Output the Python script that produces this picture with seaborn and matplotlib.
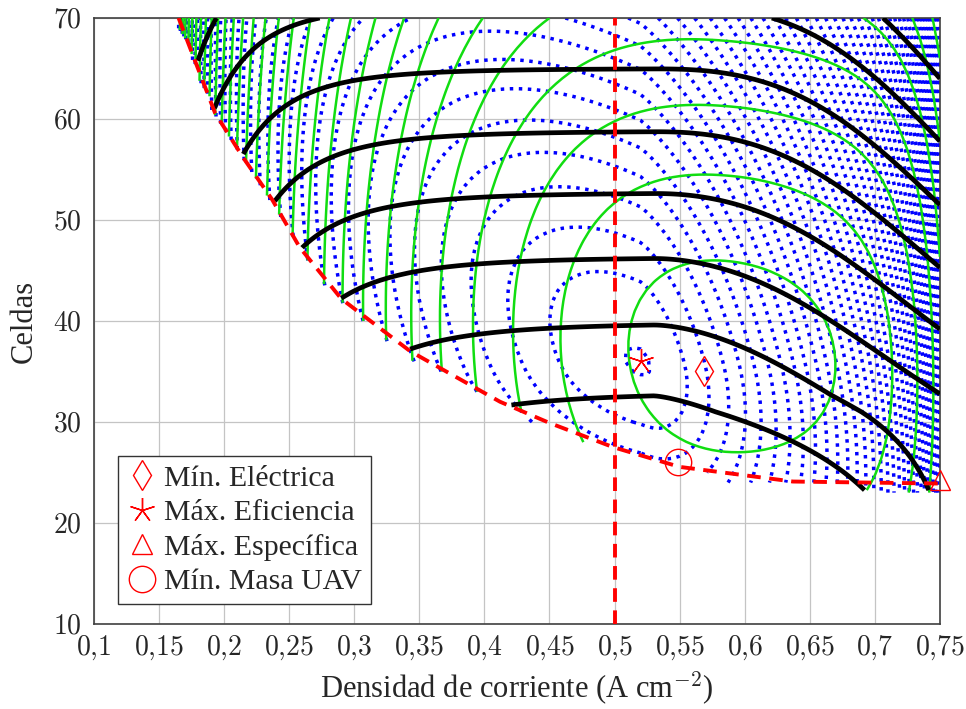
import numpy as np
import matplotlib
matplotlib.use("Agg")
import matplotlib.pyplot as plt
import seaborn as sns
from matplotlib.lines import Line2D

# ---- values ----
x_ticks = [0.10, 0.15, 0.20, 0.25, 0.30, 0.35, 0.40, 0.45, 0.50, 0.55, 0.60, 0.65, 0.70, 0.75]
y_ticks = [10, 20, 30, 40, 50, 60, 70]

# minimum-cells constraint (red dashed curve)
limit_j = [0.165, 0.193, 0.2145, 0.237, 0.258, 0.290, 0.343, 0.412, 0.450, 0.499, 0.550, 0.637, 0.750]
limit_n = [70.0, 60.6, 56.2, 52.0, 47.3, 42.2, 37.0, 32.0, 29.9, 27.5, 25.55, 24.1, 23.9]

# selected design point (vertical red dashed line)
design_j = 0.5

# optima
opt_labels = ["Mín. Eléctrica", "Máx. Eficiencia", "Máx. Específica", "Mín. Masa UAV"]
opt_j = [0.569, 0.520, 0.750, 0.549]
opt_n = [35.0, 36.0, 24.3, 26.0]
opt_markers = ["d", (5, 2, 0), "^", "o"]
opt_sizes = [15, 18, 15, 19]

# blue dotted family (efficiency): centre and ring tops along the vertical
eff_center = [0.521, 35.7]
eff_ring_tops = [1.7, 9.2, 13.6, 17.6, 21.0, 24.2, 27.3, 30.2, 33.0]

# green family (electric): centre and ring tops
elec_center = [0.585, 36.5]
elec_ring_tops = [9.5, 18.0, 24.9, 31.4]

# black family: level of each curve = height of its flat part
power_peaks = [32.9, 39.8, 46.3, 52.7, 58.8, 65.0, 71.3, 77.5]


def warp(j, jc, c_left, a_left, q_act, j_act, a_right, w_right):
    d = j - jc
    den = np.maximum(j - j_act, 0.004)
    left = d * (c_left + a_left * np.abs(d)) - q_act * (1 / den - 1 / (jc - j_act))
    right = d + a_right * w_right * (np.exp((j - 0.75) / w_right) - np.exp((jc - 0.75) / w_right))
    return np.where(d < 0, left, right)


def start_drop(n):
    return np.clip(0.25 * (n - 26) * (1 + 0.01 * (n - 42)), 0, None)


# coarse sweep grid (integer number of cells) for the two ring families
J, N = np.meshgrid(np.arange(0.10, 0.7501, 0.005), np.arange(20, 71, 1.0))
inside = (N >= np.interp(J, limit_j, limit_n) - 1.0) & (J >= limit_j[0] - 0.004) & (N >= 23)

# blue field
jc, nc = eff_center
u = warp(J, jc, 0.45, 0.0, 0.010, 0.12, 2.7, 0.027) + 0.0019 * (N - nc)
dy = np.where(N > nc, N - nc, 1.45 * (N - nc))
B = np.hypot(280 * u, dy) ** 1.5
b_tops = np.array(eff_ring_tops) ** 1.5
b_step = np.diff(b_tops[1:]).mean()
blue_levels = np.concatenate([b_tops, b_tops[-1] + b_step * np.arange(1, 260)])

# green field
jc, nc = elec_center
u = warp(J, jc, 1.0, 2.5, 0.020, 0.13, 6.4, 0.0298) + 0.001 * (N - nc)
G = np.hypot(98.5 * u, N - nc) ** 1.4
g_tops = np.array(elec_ring_tops) ** 1.4
g_step = np.diff(g_tops).mean()
green_levels = np.concatenate([g_tops, g_tops[-1] + g_step * np.arange(1, 120)])

# black field on a finer grid: each curve rises from the constraint, stays flat, then falls
Jf, Nf = np.meshgrid(np.arange(0.10, 0.7501, 0.0025), np.arange(20, 70.01, 0.25))
floor_f = np.interp(Jf, limit_j, limit_n)
floor_f = np.where(Jf > 0.62, np.minimum(floor_f, 23.2), floor_f)
inside_f = (Nf >= floor_f) & (Jf >= limit_j[0])
low = np.clip(31 - Nf, 0, None)
p = np.clip(1.5 + 0.035 * (Nf - 37), 1.35, 3.0) + 0.09 * low
amp = 13.5 + 0.57 * low
right_drop = amp * (np.clip(Jf - 0.53, 0, None) / 0.22) ** p
K = Nf + right_drop
for _ in range(15):
    ys = K.copy()
    for _ in range(30):
        ys = K - start_drop(ys)
    xs = np.interp(ys, limit_n[::-1], limit_j[::-1])
    K = Nf + start_drop(ys) * np.clip(xs / Jf, 0, 1) ** (1 / 0.17) + right_drop
k_step = np.diff(power_peaks).mean()
black_levels = np.concatenate([power_peaks, power_peaks[-1] + k_step * np.arange(1, 4)])

# ---- drawing ----
sns.set_theme(style="whitegrid")
plt.rcParams.update({
    "font.family": ["Liberation Serif", "DejaVu Serif"],
    "mathtext.fontset": "cm",
    "axes.edgecolor": "#404040",
    "axes.linewidth": 1.2,
    "grid.color": "#c4c4c4",
    "grid.linewidth": 0.9,
})

fig, ax = plt.subplots(figsize=(9.66, 7.09), dpi=100)
fig.subplots_adjust(left=0.0973, right=0.973, bottom=0.12, top=0.9746)

ax.contour(J, N, np.where(inside, B, np.nan), levels=blue_levels, colors="#0000ff",
           linewidths=2.5, linestyles=[(0, (1.0, 1.6))], zorder=2)
ax.contour(J, N, np.where(inside, G, np.nan), levels=green_levels, colors="#11dd11",
           linewidths=1.8, linestyles="solid", zorder=3)
ax.contour(Jf, Nf, np.where(inside_f, K, np.nan), levels=black_levels, colors="black",
           linewidths=3.4, linestyles="solid", zorder=4)

sns.lineplot(x=limit_j, y=limit_n, sort=False, ax=ax, color="red", linewidth=2.8,
             linestyle=(0, (3.5, 2.2)), zorder=5)
ax.axvline(design_j, color="red", linewidth=2.8, linestyle=(0, (3.5, 2.2)), zorder=5)

handles = []
for lab, xj, yn, mk, ms in zip(opt_labels, opt_j, opt_n, opt_markers, opt_sizes):
    ax.plot(xj, yn, marker=mk, markersize=ms, mfc="none", mec="red", mew=1.0,
            ls="none", zorder=6, clip_on=False)
    handles.append(Line2D([], [], marker=mk, markersize=ms, mfc="none", mec="red",
                          mew=1.0, ls="none", label=lab))

leg = ax.legend(handles=handles, loc="lower left", bbox_to_anchor=(0.028, 0.033),
                borderaxespad=0, fontsize=21.5, frameon=True, fancybox=False,
                handlelength=1.0, handletextpad=0.25, labelspacing=0.25,
                borderpad=0.3, framealpha=1)
leg.get_frame().set_edgecolor("#333333")
leg.get_frame().set_linewidth(1.0)
leg.set_zorder(10)

ax.set_xlim(0.10, 0.75)
ax.set_ylim(10, 70)
ax.set_xticks(x_ticks)
ax.set_yticks(y_ticks)
ax.set_xticklabels(["$" + ("%g" % t).replace(".", "{,}") + "$" for t in x_ticks], fontsize=20)
ax.set_yticklabels(["$%d$" % t for t in y_ticks], fontsize=20)
ax.tick_params(axis="x", direction="in", length=5, color="#404040", pad=7)
ax.tick_params(axis="y", direction="in", length=5, color="#404040", pad=9)
ax.set_xlabel("Densidad de corriente (A cm$^{-2}$)", fontsize=22, labelpad=5)
ax.set_ylabel("Celdas", fontsize=22, labelpad=10)

fig.savefig("out.png", dpi=100)
